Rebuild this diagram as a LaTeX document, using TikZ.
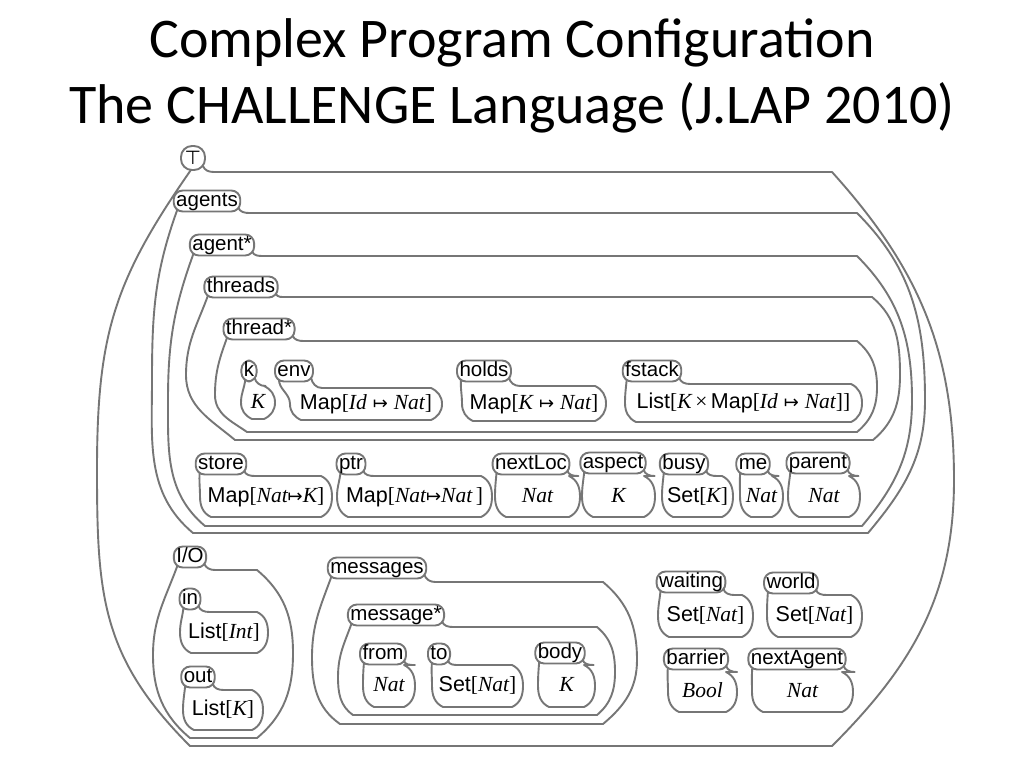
\documentclass[tikz,border=0pt]{standalone}
\usepackage{fontspec}
\setmainfont{Liberation Sans}
\newfontfamily\serf{Liberation Serif}
\newfontfamily\dvs{DejaVu Sans}
\newfontfamily\titlef{Carlito}
\usetikzlibrary{backgrounds}
\definecolor{cl}{RGB}{118,118,118}
\newcommand\mi[1]{{\serf\itshape #1}}
\newcommand\lb{{\serf[}}
\newcommand\rb{{\serf]}}
\newcommand\mt{\;{\dvs\fontsize{18}{18}\selectfont ↦}\;}
\newcommand\mtt{{\dvs\fontsize{18}{18}\selectfont ↦}}
\newcommand\xx{\,{\serf ×}\,}
\tikzset{
  cellline/.style={draw=cl, line width=1.9pt, line join=round},
  tabbox/.style={draw=cl, line width=1.9pt, fill=white, rounded corners=9pt,
     inner xsep=2.5pt, inner ysep=1pt, text height=14.5pt, text depth=4.5pt,
     font=\fontsize{20.5}{20.5}\selectfont},
  celltext/.style={inner sep=0pt, text height=15pt, text depth=4pt,
     font=\fontsize{21.5}{21.5}\selectfont},
  titletext/.style={anchor=base, inner sep=0pt, font=\titlef\fontsize{56}{56}\selectfont}
}
\newcommand\tabpts[1]{%
  \coordinate (#1A) at ([shift={(-3pt,5pt)}]#1.south east);
  \coordinate (#1R) at ([xshift=8pt]#1.south east);
  \coordinate (#1B) at ([shift={(5pt,4pt)}]#1.south west);}
% #1 name #2 label #3 tab x #4 tab y #5 x1 #6 x2 #7 ytop #8 ybot #9 content
\newcommand\leaf[9]{%
  \node[tabbox] (#1) at (#3,-#4) {#2};
  \tabpts{#1}
  \begin{pgfonlayer}{background}
  \draw[cellline] (#1A) to[out=-80,in=180] (#1R |- 0,-#7) -- (#6-11,-#7)
     to[out=-25,in=90] (#6,{-(#7+#8)/2}) to[out=-90,in=25] (#6-11,-#8)
     -- (#5+11,-#8) to[out=155,in=-90] (#5,{-(#7+#8)/2}) to[out=90,in=-95] (#1B);
  \end{pgfonlayer}
  \node[celltext] (#1c) at ({(#5+#6)/2},{-(#7+#8)/2}) {#9};
}
\begin{document}
\begin{tikzpicture}[x=1pt,y=1pt]
\begin{pgfonlayer}{background}
\fill[white] (0,0) rectangle (1024,-768);
\end{pgfonlayer}
\useasboundingbox (0,0) rectangle (1024,-768);

\node[titletext] (t1) at (512,-58) {Complex Program Configuration};
\node[titletext] (t2) at (512,-123) {The CHALLENGE Language (J.LAP 2010)};

% ---- T
\node[tabbox, minimum width=24pt, minimum height=24pt, rounded corners=11pt, inner sep=0pt, text height=15pt, text depth=3pt] (cT) at (193,-158) {{\dvs\fontsize{19}{19}\selectfont ⊤}};
\tabpts{cT}
\begin{pgfonlayer}{background}
\draw[cellline] (cTA) to[out=-70,in=180] (cTR |- 0,-172) -- (832,-172)
  to[out=-48,in=90] (954,-480) to[out=-90,in=45] (832,-746) -- (190,-746)
  to[out=135,in=-90,looseness=1.1] (97,-470) to[out=90,in=-125,looseness=1.1] ([yshift=4pt]cT.south);
\end{pgfonlayer}

% ---- agents
\node[tabbox] (cAgs) at (207,-201) {agents};
\tabpts{cAgs}
\begin{pgfonlayer}{background}
\draw[cellline] (cAgsA) to[out=-70,in=180] (cAgsR |- 0,-213) -- (857,-213)
  to[out=-45,in=90] (925,-400) to[out=-90,in=50] (868,-533) -- (193,-533)
  to[out=140,in=-90] (152,-380) to[out=90,in=-110] (cAgsB);
\end{pgfonlayer}

% ---- agent*
\node[tabbox] (cAg) at (222,-245) {agent*};
\tabpts{cAg}
\begin{pgfonlayer}{background}
\draw[cellline] (cAgA) to[out=-70,in=180] (cAgR |- 0,-256) -- (857,-256)
  to[out=-45,in=90] (912,-400) to[out=-90,in=50] (862,-526) -- (205,-526)
  to[out=140,in=-90] (168,-400) to[out=90,in=-110] (cAgB);
\end{pgfonlayer}

% ---- threads
\node[tabbox] (cThs) at (241,-287) {threads};
\tabpts{cThs}
\begin{pgfonlayer}{background}
\draw[cellline] (cThsA) to[out=-70,in=180] (cThsR |- 0,-297) -- (872,-297)
  to[out=-40,in=90] (900,-375) to[out=-90,in=40] (873,-440) -- (235,-440)
  to[out=140,in=-90] (186,-375) to[out=90,in=-110] (cThsB);
\end{pgfonlayer}

% ---- thread*
\node[tabbox] (cTh) at (259,-329) {thread*};
\tabpts{cTh}
\begin{pgfonlayer}{background}
\draw[cellline] (cThA) to[out=-70,in=180] (cThR |- 0,-341) -- (857,-341)
  to[out=-40,in=90] (877,-387) to[out=-90,in=40] (857,-432) -- (247,-432)
  to[out=145,in=-90] (215,-395) to[out=90,in=-110] (cThB);
\end{pgfonlayer}

\leaf{cK}{k}{249}{371}{241}{275}{386}{419}{\mi{K}}
\leaf{cEnv}{env}{294}{371}{290}{442}{388}{420}{Map\lb\mi{Id}\mt\mi{Nat}\rb}
\leaf{cHolds}{holds}{484}{371}{462}{606}{386}{421}{Map\lb\mi{K}\mt\mi{Nat}\rb}
\leaf{cFstack}{fstack}{652}{371}{625}{862}{384}{422}{List\lb\mi{K}\xx Map\lb\mi{Id}\mt\mi{Nat}\rb\rb}

\leaf{cStore}{store}{221}{464}{200}{332}{476}{517}{Map\lb\mi{Nat}\mtt\mi{K}\rb}
\leaf{cPtr}{ptr}{351}{464}{337}{492}{476}{517}{Map\lb\mi{Nat}\mtt\mi{Nat}\,\rb}
\leaf{cNextLoc}{nextLoc}{531}{464}{495}{580}{476}{517}{\mi{Nat}}
\leaf{cAspect}{aspect}{613}{463}{582}{655}{476}{517}{\mi{K}}
\leaf{cBusy}{busy}{684}{464}{662}{733}{476}{517}{Set\lb\mi{K}\rb}
\leaf{cMe}{me}{753}{464}{740}{783}{476}{517}{\mi{Nat}}
\leaf{cParent}{parent}{818}{463}{788}{860}{476}{517}{\mi{Nat}}

% ---- I/O
\node[tabbox] (cIO) at (190,-557) {I/O};
\tabpts{cIO}
\begin{pgfonlayer}{background}
\draw[cellline] (cIOA) to[out=-70,in=180] (cIOR |- 0,-570) -- (257,-570)
  to[out=-40,in=90] (293,-653) to[out=-90,in=40] (257,-738) -- (190,-738)
  to[out=140,in=-90] (153,-655) to[out=90,in=-110] (cIOB);
\end{pgfonlayer}
\leaf{cIn}{in}{190}{599}{180}{268}{612}{653}{List\lb\mi{Int}\rb}
\leaf{cOut}{out}{198}{677}{183}{263}{690}{730}{List\lb\mi{K}\rb}

% ---- messages
\node[tabbox] (cMs) at (377,-568) {messages};
\tabpts{cMs}
\begin{pgfonlayer}{background}
\draw[cellline] (cMsA) to[out=-70,in=180] (cMsR |- 0,-582) -- (603,-582)
  to[out=-40,in=90] (637,-660) to[out=-90,in=40] (603,-724) -- (340,-724)
  to[out=145,in=-90] (312,-657) to[out=90,in=-110] (cMsB);
\end{pgfonlayer}
\node[tabbox] (cM) at (396,-615) {message*};
\tabpts{cM}
\begin{pgfonlayer}{background}
\draw[cellline] (cMA) to[out=-70,in=180] (cMR |- 0,-627) -- (597,-627)
  to[out=-40,in=90] (615,-672) to[out=-90,in=40] (597,-715) -- (353,-715)
  to[out=145,in=-90] (338,-677) to[out=90,in=-110] (cMB);
\end{pgfonlayer}
\leaf{cFrom}{from}{383}{654}{363}{415}{665}{707}{\mi{Nat}}
\leaf{cTo}{to}{439}{654}{432}{523}{665}{707}{Set\lb\mi{Nat}\rb}
\leaf{cBody}{body}{560}{653}{538}{595}{665}{707}{\mi{K}}

% ---- right group
\leaf{cWaiting}{waiting}{691}{582}{658}{753}{595}{637}{Set\lb\mi{Nat}\rb}
\leaf{cWorld}{world}{791}{583}{767}{862}{595}{637}{Set\lb\mi{Nat}\rb}
\leaf{cBarrier}{barrier}{696}{659}{668}{737}{672}{712}{\mi{Bool}}
\leaf{cNextAgent}{nextAgent}{797}{659}{752}{853}{672}{712}{\mi{Nat}}
\end{tikzpicture}
\end{document}
